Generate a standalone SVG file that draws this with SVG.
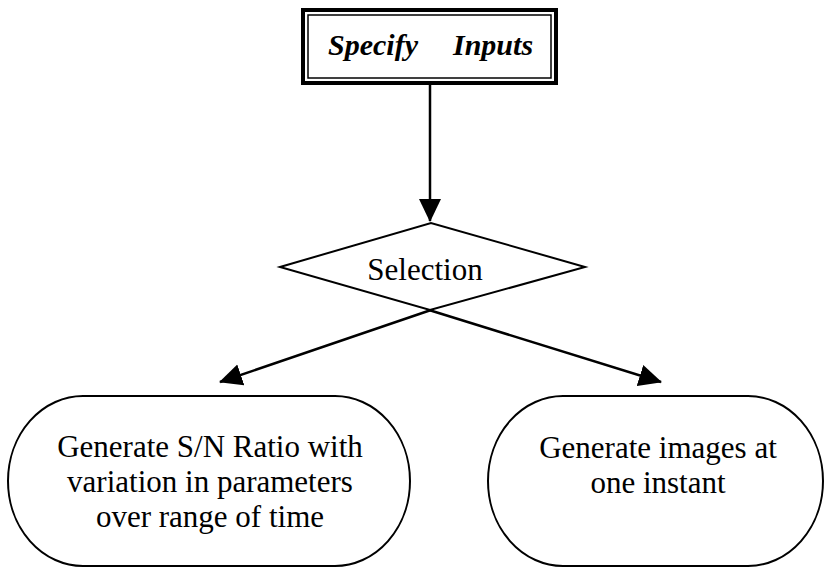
<svg xmlns="http://www.w3.org/2000/svg" width="825" height="568" viewBox="0 0 825 568">
<style>
.t{font-family:"Liberation Serif","Times New Roman",serif;font-size:31px;fill:#000;text-anchor:middle}
.ti{font-family:"Liberation Serif","Times New Roman",serif;font-size:30px;font-weight:bold;font-style:italic;fill:#000}
.shape{fill:#fff;stroke:#000;stroke-width:2}
.conn{fill:none;stroke:#000;stroke-width:2.5}
</style>
<defs>
<marker id="ah" markerUnits="userSpaceOnUse" markerWidth="24" markerHeight="24" viewBox="0 0 24 24" refX="22" refY="12" orient="auto">
<path d="M0,1 L23,12 L0,23 Z" fill="#000"/>
</marker>
</defs>
<rect width="825" height="568" fill="#fff"/>
<g id="connectors">
<line class="conn" x1="430" y1="84" x2="430" y2="221" marker-end="url(#ah)"/>
<line class="conn" x1="431" y1="310" x2="220" y2="382" marker-end="url(#ah)"/>
<line class="conn" x1="429" y1="310" x2="661" y2="382" marker-end="url(#ah)"/>
</g>
<g id="specify-inputs">
<rect x="303" y="10" width="253" height="73" fill="#fff" stroke="#000" stroke-width="4"/>
<rect x="308" y="15" width="243" height="63" fill="none" stroke="#000" stroke-width="1.5"/>
<text class="ti" x="328" y="55">Specify</text>
<text class="ti" x="453" y="55">Inputs</text>
</g>
<g id="selection">
<polygon class="shape" points="280,267 431,223 585,267 430,310"/>
<text class="t" x="425" y="280">Selection</text>
</g>
<g id="sn-ratio">
<rect class="shape" x="8" y="396" width="402" height="170" rx="75" ry="85"/>
<text class="t" x="210" y="457">Generate S/N Ratio with</text>
<text class="t" x="210" y="492">variation in parameters</text>
<text class="t" x="210" y="527">over range of time</text>
</g>
<g id="images">
<rect class="shape" x="488" y="396" width="335" height="170" rx="75" ry="85"/>
<text class="t" x="658" y="458">Generate images at</text>
<text class="t" x="658" y="493">one instant</text>
</g>
</svg>
